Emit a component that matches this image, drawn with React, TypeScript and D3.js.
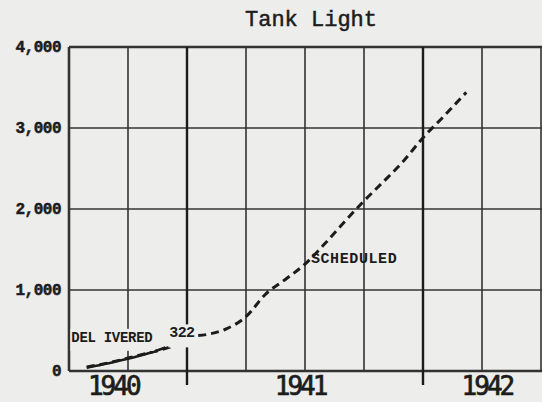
import { useEffect, useRef } from 'react'
import { scaleLinear, select, line, curveMonotoneX, format } from 'd3'

// months counted from July 1940 (0) to July 1942 (24)
const schedMonths = [0.9, 2, 3, 4, 5, 5.5, 6, 7, 8, 9, 10, 11, 12, 13, 14, 15, 16, 17, 18, 19, 20.2]
const schedValues = [50, 100, 160, 220, 285, 330, 420, 450, 520, 670, 950, 1130, 1320, 1570, 1840, 2100, 2340, 2590, 2880, 3130, 3440]
const delivMonths = [0.9, 2, 3, 4, 4.9]
const delivValues = [40, 95, 150, 215, 290]
const yTicks = [0, 1000, 2000, 3000, 4000]
const quarterLines = [0, 3, 6, 9, 12, 15, 18, 21, 24]
const yearLines = [6, 18]
const yearLabels = ['1940', '1941', '1942']
const yearLabelPos = [2.25, 11.75, 21.25]

const W = 542
const H = 402
const paper = '#ededeb'
const ink = '#1c1c1c'

const App = () => {
  const ref = useRef(null)

  useEffect(() => {
    const svg = select(ref.current)
    svg.selectAll('*').remove()

    const x = scaleLinear().domain([0, 24]).range([69, 541])
    const y = scaleLinear().domain([0, 4000]).range([371, 47])

    svg.append('rect').attr('width', W).attr('height', H).attr('fill', paper)

    // grid
    svg.selectAll('.hgrid').data(yTicks).enter().append('line')
      .attr('x1', x(0)).attr('x2', W)
      .attr('y1', d => y(d)).attr('y2', d => y(d))
      .attr('stroke', '#333').attr('stroke-width', d => (d === 0 || d === 4000) ? 2.6 : 1.7)

    svg.selectAll('.vgrid').data(quarterLines).enter().append('line')
      .attr('x1', d => x(d)).attr('x2', d => x(d))
      .attr('y1', y(4000)).attr('y2', y(0))
      .attr('stroke', '#333').attr('stroke-width', d => d === 0 ? 2.6 : 1.6)

    svg.selectAll('.yline').data(yearLines).enter().append('line')
      .attr('x1', d => x(d)).attr('x2', d => x(d))
      .attr('y1', y(4000)).attr('y2', y(0) + 14)
      .attr('stroke', ink).attr('stroke-width', 2.4)

    // y labels
    svg.selectAll('.ylab').data(yTicks).enter().append('text')
      .attr('x', 61).attr('y', d => y(d) + 5)
      .attr('text-anchor', 'end')
      .attr('font-family', 'Liberation Mono').attr('font-weight', 'bold')
      .attr('font-size', 16).attr('fill', ink)
      .attr('stroke', ink).attr('stroke-width', 0.5)
      .attr('letter-spacing', -0.5)
      .text(d => d === 0 ? '0' : format(',')(d))

    // year labels
    svg.selectAll('.xlab').data(yearLabels).enter().append('text')
      .attr('x', (d, i) => x(yearLabelPos[i])).attr('y', 395)
      .attr('text-anchor', 'middle')
      .attr('font-family', 'DejaVu Sans Mono')
      .attr('font-size', 26).attr('fill', ink)
      .attr('stroke', ink).attr('stroke-width', 0.7)
      .attr('letter-spacing', -3)
      .text(d => d)

    // title
    svg.append('text')
      .attr('x', 311).attr('y', 26)
      .attr('text-anchor', 'middle')
      .attr('font-family', 'Liberation Mono')
      .attr('font-size', 22).attr('fill', ink)
      .attr('stroke', ink).attr('stroke-width', 0.5)
      .text('Tank Light')

    const gen = line<number>().x(d => x(d[0])).y(d => y(d[1])).curve(curveMonotoneX)

    // delivered (solid)
    svg.append('path')
      .datum(delivMonths.map((m, i) => [m, delivValues[i]]))
      .attr('d', gen)
      .attr('fill', 'none').attr('stroke', ink).attr('stroke-width', 2.6)

    // scheduled (dashed)
    svg.append('path')
      .datum(schedMonths.map((m, i) => [m, schedValues[i]]))
      .attr('d', gen)
      .attr('fill', 'none').attr('stroke', ink).attr('stroke-width', 3)
      .attr('stroke-dasharray', '8,5')

    // labels
    const lab = (t, m, v, size, ls, bg) => {
      const g = svg.append('g')
      const tx = g.append('text')
        .attr('x', x(m)).attr('y', y(v))
        .attr('font-family', 'Liberation Mono').attr('font-weight', 'bold')
        .attr('font-size', size).attr('fill', ink)
        .attr('letter-spacing', ls)
        .text(t)
      if (bg) {
        const b = tx.node().getBBox()
        g.insert('rect', 'text')
          .attr('x', b.x - 1).attr('y', b.y - 1)
          .attr('width', b.width + 3).attr('height', b.height + 6)
          .attr('fill', paper)
      }
    }
    lab('DEL IVERED', 0.12, 360, 14, -0.3, true)
    lab('322', 5.1, 415, 15, -0.6, true)
    lab('SCHEDULED', 12.3, 1330, 15, 0.6, false)
  }, [])

  return <svg ref={ref} width={W} height={H} style={{ position: 'absolute', left: 0, top: 0 }} />
}

export default App
